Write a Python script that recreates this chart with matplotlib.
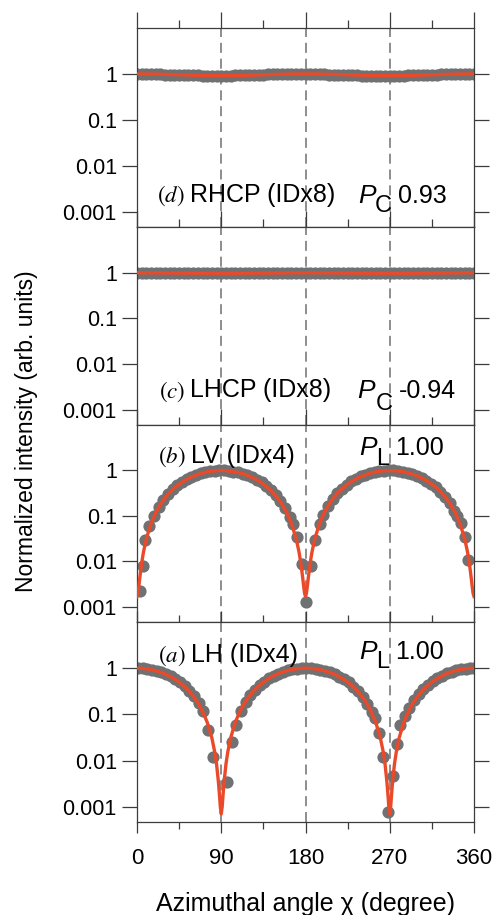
import matplotlib
matplotlib.use("Agg")
import matplotlib.pyplot as plt
from matplotlib.ticker import FixedLocator, NullLocator, FixedFormatter

plt.rcParams['font.family'] = ['Liberation Sans', 'DejaVu Sans']

# ---------------- data ----------------
# (d) RHCP and (c) LHCP: measured every 5 degrees
ang_cd = list(range(0, 361, 5))
int_d = [1.00, 1.01, 0.99, 1.00, 0.98, 0.98, 0.97, 0.97, 0.96, 0.95,
         0.95, 0.94, 0.93, 0.93, 0.92, 0.92, 0.92, 0.91, 0.92, 0.92,
         0.92, 0.93, 0.93, 0.94, 0.95, 0.96, 0.96, 0.97, 0.98, 0.99,
         0.99, 1.00, 1.00, 1.01, 1.00, 1.00, 1.00, 0.99, 0.99, 0.98,
         0.98, 0.97, 0.96, 0.95, 0.95, 0.94, 0.93, 0.93, 0.92, 0.92,
         0.91, 0.91, 0.91, 0.91, 0.91, 0.92, 0.92, 0.92, 0.93, 0.94,
         0.94, 0.95, 0.96, 0.97, 0.97, 0.98, 0.99, 0.99, 1.00, 1.00,
         1.01, 1.00, 1.00]
int_c = [1.00, 0.99, 1.00, 0.99, 0.99, 1.00, 0.98, 0.99, 0.98, 0.99,
         0.98, 0.98, 0.97, 0.98, 0.98, 0.97, 0.98, 0.98, 0.97, 0.98,
         0.98, 0.98, 0.98, 0.99, 0.98, 0.99, 0.99, 0.99, 1.00, 0.99,
         1.00, 1.00, 0.99, 1.00, 1.01, 1.00, 1.00, 1.00, 0.99, 1.00,
         0.99, 0.99, 0.99, 0.98, 0.99, 0.98, 0.98, 0.98, 0.97, 0.98,
         0.98, 0.97, 0.98, 0.98, 0.98, 0.97, 0.98, 0.98, 0.98, 0.99,
         0.98, 0.99, 0.99, 0.99, 0.99, 1.00, 0.99, 1.00, 1.00, 1.00,
         1.00, 1.01, 1.00]
fit_cd_x = list(range(0, 361, 15))
fit_d = [1.00, 0.995, 0.98, 0.96, 0.94, 0.925, 0.92, 0.925, 0.94, 0.96, 0.98, 0.995, 1.00,
         0.995, 0.98, 0.96, 0.94, 0.925, 0.92, 0.925, 0.94, 0.96, 0.98, 0.995, 1.00]
fit_c = [1.00, 0.997, 0.99, 0.985, 0.98, 0.978, 0.977, 0.978, 0.98, 0.985, 0.99, 0.997, 1.00,
         0.997, 0.99, 0.985, 0.98, 0.978, 0.977, 0.978, 0.98, 0.985, 0.99, 0.997, 1.00]

# (b) LV
ang_b = [3, 6, 9, 13, 18, 23, 28, 33, 38, 43, 48, 53, 58, 63, 68, 73, 78, 83, 88, 93,
         98, 103, 108, 113, 118, 123, 128, 133, 138, 143, 148, 153, 158, 163, 167, 171,
         176, 181, 186, 190, 195, 199, 204, 209, 214, 219, 224, 229, 234, 239, 244, 249,
         254, 259, 264, 269, 274, 279, 284, 289, 294, 299, 304, 309, 314, 319, 324, 329,
         334, 339, 342, 346, 350, 354]
int_b = [0.0023, 0.0079, 0.029, 0.06, 0.10, 0.16, 0.23, 0.31, 0.39, 0.48, 0.57, 0.65,
         0.73, 0.80, 0.87, 0.92, 0.96, 0.99, 1.00, 1.00, 0.98, 0.95, 0.91, 0.85, 0.79,
         0.71, 0.63, 0.55, 0.46, 0.37, 0.29, 0.21, 0.15, 0.095, 0.066, 0.035, 0.009,
         0.0013, 0.008, 0.029, 0.066, 0.105, 0.17, 0.24, 0.32, 0.40, 0.49, 0.58, 0.66,
         0.74, 0.81, 0.87, 0.93, 0.97, 0.99, 1.00, 1.00, 0.98, 0.95, 0.90, 0.84, 0.77,
         0.69, 0.60, 0.51, 0.43, 0.34, 0.26, 0.19, 0.13, 0.10, 0.07, 0.035, 0.011]
fit_b_x = [0, 1, 2, 3, 5, 7, 10, 15, 20, 25, 30, 35, 40, 45, 50, 55, 60, 65, 70, 75, 80,
           85, 90, 95, 100, 105, 110, 115, 120, 125, 130, 135, 140, 145, 150, 155, 160,
           165, 170, 173, 175, 177, 178, 179, 180, 181, 182, 183, 185, 187, 190, 195, 200,
           205, 210, 215, 220, 225, 230, 235, 240, 245, 250, 255, 260, 265, 270, 275, 280,
           285, 290, 295, 300, 305, 310, 315, 320, 325, 330, 335, 340, 345, 350, 353, 355,
           357, 358, 359, 360]
fit_b_y = [0.0017, 0.0020, 0.0029, 0.0044, 0.0093, 0.0165, 0.0318, 0.0685, 0.118, 0.180,
           0.251, 0.330, 0.414, 0.500, 0.586, 0.670, 0.749, 0.820, 0.882, 0.932, 0.968,
           0.991, 1.000, 0.991, 0.968, 0.932, 0.882, 0.820, 0.749, 0.670, 0.586, 0.500,
           0.414, 0.330, 0.251, 0.180, 0.118, 0.0685, 0.0318, 0.0165, 0.0093, 0.0044,
           0.0029, 0.0020, 0.0017, 0.0020, 0.0029, 0.0044, 0.0093, 0.0165, 0.0318, 0.0685,
           0.118, 0.180, 0.251, 0.330, 0.414, 0.500, 0.586, 0.670, 0.749, 0.820, 0.882,
           0.932, 0.968, 0.991, 1.000, 0.991, 0.968, 0.932, 0.882, 0.820, 0.749, 0.670,
           0.586, 0.500, 0.414, 0.330, 0.251, 0.180, 0.118, 0.0685, 0.0318, 0.0165, 0.0093,
           0.0044, 0.0029, 0.0020, 0.0017]

# (a) LH
ang_a = [1, 6, 11, 16, 21, 26, 31, 36, 41, 46, 51, 56, 61, 66, 71, 76, 81,
         96, 101, 106, 111, 116, 121, 126, 131, 136, 141, 146, 151, 156, 161, 166, 171,
         176, 181, 186, 191, 196, 201, 206, 211, 216, 221, 226, 231, 236, 241, 246, 251,
         254, 259, 263, 268.5, 274, 277.5, 281,
         286, 291, 296, 301, 306, 311, 316, 321, 326, 331, 336, 341, 346, 351, 356, 360]
int_a = [1.00, 0.99, 0.965, 0.93, 0.88, 0.815, 0.745, 0.665, 0.58, 0.495, 0.41, 0.325,
         0.245, 0.175, 0.12, 0.045, 0.012,
         0.0035, 0.025, 0.06, 0.12, 0.185, 0.26, 0.34, 0.425, 0.515, 0.60, 0.685, 0.765,
         0.835, 0.895, 0.94, 0.975, 0.995, 1.00, 0.99, 0.965, 0.925, 0.875, 0.81, 0.74,
         0.66, 0.575, 0.49, 0.40, 0.32, 0.24, 0.17, 0.11,
         0.082, 0.039, 0.012, 0.00078, 0.0046, 0.023, 0.059,
         0.09, 0.14, 0.20, 0.275, 0.355, 0.44, 0.525, 0.61, 0.69, 0.77, 0.84, 0.895, 0.94,
         0.975, 0.995, 1.00]
fit_a_x = [0, 5, 10, 15, 20, 25, 30, 35, 40, 45, 50, 55, 60, 65, 70, 75, 80,
           83, 85, 87, 88, 89, 90, 91, 92, 93, 95, 97,
           100, 105, 110, 115, 120, 125, 130, 135, 140, 145, 150, 155, 160, 165, 170, 175,
           180, 185, 190, 195, 200, 205, 210, 215, 220, 225, 230, 235, 240, 245, 250, 255, 260,
           263, 265, 267, 268, 269, 270, 271, 272, 273, 275, 277,
           280, 285, 290, 295, 300, 305, 310, 315, 320, 325, 330, 335, 340, 345, 350, 355, 360]
fit_a_y = [1.000, 0.992, 0.970, 0.933, 0.883, 0.821, 0.750, 0.671, 0.587, 0.500, 0.413,
           0.329, 0.250, 0.179, 0.117, 0.0675, 0.0308,
           0.0155, 0.0083, 0.0034, 0.0019, 0.0010, 0.0007, 0.0010, 0.0019, 0.0034, 0.0083, 0.0155,
           0.0308, 0.0675, 0.117, 0.179, 0.250, 0.329, 0.413, 0.500, 0.587, 0.671, 0.750,
           0.821, 0.883, 0.933, 0.970, 0.992, 1.000, 0.992, 0.970, 0.933, 0.883, 0.821,
           0.750, 0.671, 0.587, 0.500, 0.413, 0.329, 0.250, 0.179, 0.117, 0.0675, 0.0308,
           0.0155, 0.0083, 0.0034, 0.0019, 0.0010, 0.0007, 0.0010, 0.0019, 0.0034, 0.0083, 0.0155,
           0.0308, 0.0675, 0.117, 0.179, 0.250, 0.329, 0.413, 0.500, 0.587, 0.671, 0.750,
           0.821, 0.883, 0.933, 0.970, 0.992, 1.000]

x_ticks = [0, 90, 180, 270, 360]
x_minor = [45, 135, 225, 315]
y_ticks = [1, 0.1, 0.01, 0.001]
y_ticklabels = ['1', '0.1', '0.01', '0.001']
guide_angles = [90, 180, 270]

panels = [
    # letter, label, sym, sub, value, angles, data, fit_x, fit_y
    ('d', 'RHCP (IDx8)', 'P', 'C', '0.93', ang_cd, int_d, fit_cd_x, fit_d),
    ('c', 'LHCP (IDx8)', 'P', 'C', '-0.94', ang_cd, int_c, fit_cd_x, fit_c),
    ('b', 'LV (IDx4)', 'P', 'L', '1.00', ang_b, int_b, fit_b_x, fit_b_y),
    ('a', 'LH (IDx4)', 'P', 'L', '1.00', ang_a, int_a, fit_a_x, fit_a_y),
]
# text placement (axes fraction): letter x, label x, main baseline, P x, P baseline, sub x, sub baseline, val x
text_pos = [
    (0.059, 0.157, 0.127, 0.656, 0.122, 0.705, 0.074, 0.775),
    (0.064, 0.158, 0.140, 0.653, 0.135, 0.707, 0.076, 0.777),
    (0.063, 0.159, 0.806, 0.660, 0.848, 0.709, 0.797, 0.766),
    (0.063, 0.159, 0.800, 0.660, 0.813, 0.709, 0.768, 0.766),
]

W, H = 494, 915
fig = plt.figure(figsize=(W / 100, H / 100), dpi=100)
left_px, right_px = 137, 474
bounds_px = [(28, 227), (227, 425), (425, 622), (622, 822)]

grey = '#707172'
red = '#ea4a2a'
spine_c = '#3c3c3c'

for i, (p, tp, (top, bot)) in enumerate(zip(panels, text_pos, bounds_px)):
    letter, label, sym, sub, val, ang, dat, fx, fy = p
    ax = fig.add_axes([left_px / W, 1 - bot / H, (right_px - left_px) / W, (bot - top) / H])
    ax.set_yscale('log')
    ax.set_xlim(0, 360)
    ax.set_ylim(10 ** -3.33, 10 ** 1.0)
    for g in guide_angles:
        ax.axvline(g, color='#7a7a7a', lw=1.2, dashes=(6, 3.5), zorder=1)
    ax.plot(ang, dat, 'o', color=grey, ms=8.8, mew=0, zorder=2)
    ax.plot(fx, fy, '-', color=red, lw=2.4, zorder=3)

    for s in ax.spines.values():
        s.set_color(spine_c)
        s.set_linewidth(0.9)
    ax.yaxis.set_major_locator(FixedLocator(y_ticks))
    ax.yaxis.set_major_formatter(FixedFormatter(y_ticklabels))
    ax.yaxis.set_minor_locator(NullLocator())
    ax.tick_params(axis='y', which='major', direction='out', length=11, width=0.9,
                   color=spine_c, left=True, right=True, labelleft=True, labelright=False,
                   labelsize=15.5, pad=3.5)
    ax.xaxis.set_major_locator(FixedLocator(x_ticks))
    ax.xaxis.set_minor_locator(FixedLocator(x_minor))
    if i < 3:
        ax.tick_params(axis='x', which='major', direction='out', length=11.5, width=0.9,
                       color=spine_c, top=True, bottom=False, labelbottom=False, labeltop=False)
        ax.tick_params(axis='x', which='minor', direction='out', length=5.8, width=0.9,
                       color=spine_c, top=True, bottom=False)
    else:
        ax.tick_params(axis='x', which='major', direction='out', length=8, width=0.9,
                       color=spine_c, top=True, bottom=True, labelbottom=True, labeltop=False,
                       labelsize=16, pad=11)
        ax.tick_params(axis='x', which='minor', direction='out', length=5, width=0.9,
                       color=spine_c, top=True, bottom=True)
    lx, tx, yb, px, pyb, sx, syb, vx = tp
    ax.text(lx, yb, '$(' + letter + ')$', transform=ax.transAxes, fontsize=16.5,
            math_fontfamily='stix', va='baseline', ha='left', zorder=5)
    ax.text(tx, yb, label, transform=ax.transAxes, fontsize=18, va='baseline', ha='left', zorder=5)
    ax.text(px, pyb, sym, transform=ax.transAxes, fontsize=19, style='italic',
            va='baseline', ha='left', zorder=5)
    ax.text(sx, syb, sub, transform=ax.transAxes, fontsize=17, va='baseline', ha='left', zorder=5)
    ax.text(vx, pyb, val, transform=ax.transAxes, fontsize=18, va='baseline', ha='left', zorder=5)

fig.text(0.053, 0.529, 'Normalized intensity (arb. units)', rotation=90, fontsize=16.5,
         ha='center', va='center')
fig.text(0.619, 0.004, 'Azimuthal angle χ (degree)', fontsize=18, ha='center', va='baseline')

fig.savefig('out.png', dpi=100)
